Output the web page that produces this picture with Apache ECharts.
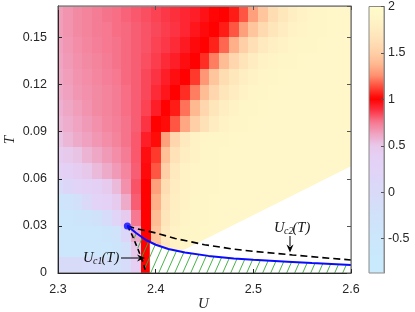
<!DOCTYPE html>
<html><head><meta charset="utf-8">
<script src="https://cdn.jsdelivr.net/npm/echarts@6/dist/echarts.min.js"></script>
<style>html,body{margin:0;padding:0;background:#fff}#c{width:415px;height:312px}</style>
</head><body><div id="c"></div>
<script>
// ---- grid of the colour field (cell centres) ----
const U_values = [2.30,2.31,2.32,2.33,2.34,2.35,2.36,2.37,2.38,2.39,2.40,2.41,2.42,2.43,2.44,2.45,2.46,2.47,2.48,2.49,2.50,2.51,2.52,2.53,2.54,2.55,2.56,2.57,2.58,2.59,2.60];
const T_values = [0.005,0.015,0.025,0.035,0.045,0.055,0.065,0.075,0.085,0.095,0.105,0.115,0.125,0.135,0.145,0.155,0.165];
const N = null;
// one row per T value (null = no data, white)
const z_T0005 = [-0.05,-0.05,-0.05,-0.1,-0.1,-0.15,-0.2,-0.1,0.4,1.0,N,N,N,N,N,N,N,N,N,N,N,N,N,N,N,N,N,N,N,N,N];
const z_T0015 = [-0.5,-0.5,-0.5,-0.5,-0.5,-0.5,-0.45,-0.2,0.5,1.0,1.4,1.7,1.82,1.86,1.88,1.89,N,N,N,N,N,N,N,N,N,N,N,N,N,N,N];
const z_T0025 = [-0.5,-0.5,-0.5,-0.5,-0.5,-0.45,-0.35,0.1,0.6,1.0,1.45,1.72,1.83,1.87,1.88,1.89,1.9,1.9,1.9,N,N,N,N,N,N,N,N,N,N,N,N];
const z_T0035 = [-0.5,-0.5,-0.45,-0.4,-0.3,-0.1,0.2,0.45,0.75,1.0,1.4,1.68,1.8,1.85,1.87,1.88,1.89,1.9,1.9,1.9,1.9,1.9,N,N,N,N,N,N,N,N,N];
const z_T0045 = [-0.45,-0.35,-0.2,0.05,0.25,0.35,0.45,0.6,0.8,1.0,1.35,1.65,1.78,1.84,1.87,1.88,1.89,1.9,1.9,1.9,1.9,1.9,1.9,1.9,1.9,N,N,N,N,N,N];
const z_T0055 = [-0.1,0.1,0.22,0.3,0.36,0.45,0.55,0.68,0.82,1.0,1.3,1.6,1.76,1.83,1.86,1.87,1.88,1.89,1.9,1.9,1.9,1.9,1.9,1.9,1.9,1.9,1.9,1.9,N,N,N];
const z_T0065 = [0.33,0.38,0.44,0.5,0.55,0.6,0.65,0.71,0.8,0.98,1.15,1.5,1.72,1.82,1.86,1.87,1.88,1.89,1.9,1.9,1.9,1.9,1.9,1.9,1.9,1.9,1.9,1.9,1.9,1.9,1.9];
const z_T0075 = [0.44,0.48,0.52,0.57,0.61,0.65,0.69,0.74,0.81,0.97,1.1,1.42,1.65,1.78,1.84,1.87,1.88,1.89,1.9,1.9,1.9,1.9,1.9,1.9,1.9,1.9,1.9,1.9,1.9,1.9,1.9];
const z_T0085 = [0.52,0.56,0.6,0.63,0.66,0.69,0.72,0.76,0.81,0.93,1.02,1.3,1.55,1.72,1.82,1.86,1.87,1.88,1.89,1.9,1.9,1.9,1.9,1.9,1.9,1.9,1.9,1.9,1.9,1.9,1.9];
const z_T0095 = [0.56,0.59,0.62,0.65,0.68,0.71,0.73,0.76,0.8,0.88,1.0,1.02,1.15,1.32,1.5,1.64,1.75,1.82,1.86,1.88,1.89,1.9,1.9,1.9,1.9,1.9,1.9,1.9,1.9,1.9,1.9];
const z_T0105 = [0.58,0.61,0.64,0.67,0.7,0.72,0.74,0.77,0.8,0.85,0.93,1.0,1.05,1.2,1.38,1.55,1.68,1.77,1.83,1.87,1.88,1.89,1.9,1.9,1.9,1.9,1.9,1.9,1.9,1.9,1.9];
const z_T0115 = [0.6,0.63,0.66,0.68,0.7,0.72,0.74,0.77,0.8,0.84,0.9,0.95,1.0,1.08,1.22,1.4,1.55,1.68,1.76,1.82,1.86,1.88,1.89,1.9,1.9,1.9,1.9,1.9,1.9,1.9,1.9];
const z_T0125 = [0.61,0.64,0.67,0.69,0.71,0.73,0.75,0.78,0.8,0.84,0.88,0.93,0.97,1.0,1.1,1.27,1.45,1.6,1.7,1.78,1.83,1.86,1.88,1.89,1.9,1.9,1.9,1.9,1.9,1.9,1.9];
const z_T0135 = [0.62,0.65,0.68,0.7,0.72,0.74,0.76,0.78,0.8,0.83,0.86,0.9,0.93,0.97,1.0,1.08,1.22,1.4,1.55,1.67,1.76,1.82,1.85,1.87,1.88,1.89,1.9,1.9,1.9,1.9,1.9];
const z_T0145 = [0.63,0.66,0.69,0.71,0.73,0.75,0.76,0.78,0.8,0.82,0.85,0.87,0.9,0.94,0.98,1.0,1.06,1.18,1.35,1.5,1.62,1.72,1.79,1.83,1.86,1.87,1.88,1.89,1.9,1.9,1.9];
const z_T0155 = [0.64,0.67,0.7,0.72,0.74,0.75,0.77,0.78,0.8,0.82,0.84,0.86,0.88,0.91,0.95,0.98,1.0,1.05,1.15,1.3,1.45,1.58,1.68,1.76,1.82,1.85,1.87,1.88,1.89,1.9,1.9];
const z_T0165 = [0.64,0.67,0.7,0.72,0.74,0.76,0.77,0.79,0.81,0.83,0.85,0.87,0.89,0.91,0.93,0.96,0.99,1.0,1.05,1.15,1.3,1.45,1.6,1.7,1.78,1.83,1.86,1.88,1.89,1.9,1.9];

// ---- curves ----
const blueU = [2.371,2.38,2.39,2.40,2.413,2.43,2.454,2.48,2.50,2.535,2.56,2.60];
const blueT = [0.030,0.0255,0.021,0.018,0.0153,0.013,0.0109,0.0092,0.0084,0.0072,0.0063,0.0051];
const c2U = [2.371,2.38,2.40,2.42,2.45,2.48,2.50,2.54,2.57,2.60];
const c2T = [0.030,0.0283,0.0255,0.022,0.018,0.0152,0.0138,0.0115,0.0098,0.0083];
const c1U = [2.371,2.376,2.382,2.387,2.39];
const c1T = [0.030,0.024,0.015,0.007,0.0];
const pointU = [2.371];
const pointT = [0.030];
// boundary of the region without data
const noDataU = [2.394,2.394,2.40,2.413,2.425,2.60,2.60];
const noDataT = [0,0.0195,0.018,0.0153,0.0135,0.068,0];

// ---- tick labels ----
const xTicks = [2.3,2.4,2.5,2.6];
const yTicks = [0,0.03,0.06,0.09,0.12,0.15];
const cbTicks = [-0.5,0,0.5,1,1.5,2];
const cbMin = -0.87, cbMax = 2;

const cmap = ['#c9e9fc','#c9e9fc','#cae8fc','#cce6fb','#cee4fb','#d1e1fa','#d5ddf9','#d9daf8','#ddd6f8','#e2d3f7','#e5d0f5','#e8c8ea','#f0a2c0','#f67890','#fc3444','#ff0000','#ff4838','#ff9070','#ffb890','#ffd0a8','#ffe0b6','#ffecc0','#fff6c8','#fffccc'];

const rows = [z_T0005,z_T0015,z_T0025,z_T0035,z_T0045,z_T0055,z_T0065,z_T0075,z_T0085,z_T0095,z_T0105,z_T0115,z_T0125,z_T0135,z_T0145,z_T0155,z_T0165];
const cells = [];
rows.forEach((row, j) => row.forEach((v, i) => { if (v !== null) cells.push([U_values[i], T_values[j], v]); }));
const dU = U_values[1] - U_values[0];
const dT = T_values[1] - T_values[0];
const zip = (a, b) => a.map((v, i) => [v, b[i]]);

// hatch pattern
const pc = document.createElement('canvas');
pc.width = 8; pc.height = 18;
const g = pc.getContext('2d');
g.strokeStyle = '#33a833'; g.lineWidth = 0.9;
[-8, 0, 8].forEach(o => { g.beginPath(); g.moveTo(o, 18); g.lineTo(o + 8, 0); g.stroke(); });

const hatchPts = zip(c1U, c1T).concat([[blueU[blueU.length-1], 0]]).concat(zip(blueU, blueT).reverse());
const noDataPts = zip(noDataU, noDataT);

const txt = '#262626';
const chart = echarts.init(document.getElementById('c'), null, {renderer: 'canvas'});

function polySeries(pts, fill, z) {
  return {
    type: 'custom', xAxisIndex: 0, yAxisIndex: 0, z: z, clip: true, silent: true,
    data: [pts[0]],
    renderItem: (params, api) => ({
      type: 'polygon',
      shape: { points: pts.map(p => api.coord(p)) },
      style: { fill: fill, stroke: null }
    })
  };
}

const subFont = 'italic 10px "Liberation Serif"';
const mainFont = 'italic 14.5px "Liberation Serif"';
const titleFont = 'italic 15px "Liberation Serif"';
function label(x, y, sub) {
  return [
    {type:'text', z:100, x:x, y:y, style:{text:'U', font:mainFont, fill:'#111', verticalAlign:'middle'}},
    {type:'text', z:100, x:x+10, y:y+3.5, style:{text:sub, font:subFont, fill:'#111', verticalAlign:'middle'}},
    {type:'text', z:100, x:x+18.5, y:y, style:{text:'(T)', font:mainFont, fill:'#111', verticalAlign:'middle'}}
  ];
}

chart.setOption({
  animation: false,
  backgroundColor: '#fff',
  grid: [
    {left: 58, top: 6, width: 293, height: 267, show: true, borderColor: '#555', borderWidth: 1, backgroundColor: 'transparent', z: 10},
    {left: 369, top: 6, width: 15, height: 267, show: true, borderColor: '#8a8a8a', borderWidth: 1, backgroundColor: 'transparent', z: 10}
  ],
  visualMap: {
    type: 'continuous', seriesIndex: 0, dimension: 2, min: cbMin, max: cbMax,
    inRange: {color: cmap}, calculable: false, orient: 'vertical',
    left: 369, top: 6, itemWidth: 15, itemHeight: 267, padding: 0, show: true, hoverLink: false
  },
  xAxis: [
    {gridIndex:0, type:'value', min:2.3, max:2.6, interval:0.1, position:'bottom', z:10,
     axisLine:{show:true, onZero:false, lineStyle:{color:txt}}, axisTick:{inside:true, length:4, lineStyle:{color:txt}},
     axisLabel:{fontSize:12.5, color:txt, margin:10, fontFamily:'Liberation Sans', formatter: v => v.toFixed(1)},
     splitLine:{show:false}},
    {gridIndex:0, type:'value', min:2.3, max:2.6, interval:0.1, position:'top', z:10,
     axisLine:{show:true, onZero:false, lineStyle:{color:'#888'}}, axisTick:{inside:true, length:4, lineStyle:{color:'#555'}},
     axisLabel:{show:false}, splitLine:{show:false}},
    {gridIndex:1, type:'value', min:0, max:1, show:false}
  ],
  yAxis: [
    {gridIndex:0, type:'value', min:0, max:0.17, interval:0.03, position:'left', z:10,
     axisLine:{show:true, onZero:false, lineStyle:{color:txt}}, axisTick:{inside:true, length:4, lineStyle:{color:txt}},
     axisLabel:{fontSize:12.5, color:txt, margin:11, fontFamily:'Liberation Sans', showMaxLabel:false,
       formatter: v => (Math.abs(v) < 1e-9 ? '0' : v.toFixed(2))},
     splitLine:{show:false}},
    {gridIndex:0, type:'value', min:0, max:0.17, interval:0.03, position:'right', z:10,
     axisLine:{show:true, onZero:false, lineStyle:{color:'#888'}}, axisTick:{inside:true, length:4, lineStyle:{color:'#555'}},
     axisLabel:{show:false}, splitLine:{show:false}},
    {gridIndex:1, type:'value', min:cbMin, max:cbMax, position:'right', z:10,
     axisLine:{show:true, onZero:false, lineStyle:{color:'#8a8a8a'}},
     axisTick:{inside:true, length:3, lineStyle:{color:'#555'}, customValues: cbTicks},
     axisLabel:{fontSize:12.5, color:txt, margin:4, fontFamily:'Liberation Sans', customValues: cbTicks, formatter: v => String(v)},
     splitLine:{show:false}}
  ],
  series: [
    {type:'custom', xAxisIndex:0, yAxisIndex:0, z:1, clip:true, silent:true,
     dimensions:['U','T','v'], encode:{x:0, y:1}, data: cells,
     renderItem: (params, api) => {
       const u = api.value(0), t = api.value(1);
       const a = api.coord([u - dU/2, t + dT/2]);
       const b = api.coord([u + dU/2, t - dT/2]);
       const cs = params.coordSys;
       const x0 = Math.max(Math.round(a[0]), cs.x), x1 = Math.min(Math.round(b[0]), cs.x + cs.width);
       const y0 = Math.max(Math.round(a[1]), cs.y), y1 = Math.min(Math.round(b[1]), cs.y + cs.height);
       return {type:'rect', shape:{x:x0, y:y0, width:x1-x0, height:y1-y0}, style:{fill: api.visual('color')}};
     }},
    polySeries(noDataPts, '#ffffff', 2),
    polySeries(hatchPts, {image: pc, repeat: 'repeat'}, 3),
    {type:'line', xAxisIndex:0, yAxisIndex:0, z:5, data: zip(blueU, blueT), showSymbol:false, silent:true,
     lineStyle:{color:'#0a0aff', width:2}},
    {type:'line', xAxisIndex:0, yAxisIndex:0, z:4, data: zip(c2U, c2T), showSymbol:false, silent:true,
     lineStyle:{color:'#000', width:1.6, type:[7,4]}},
    {type:'line', xAxisIndex:0, yAxisIndex:0, z:4, data: zip(c1U, c1T), showSymbol:false, silent:true,
     lineStyle:{color:'#000', width:1.6, type:[5,3.5]}},
    {type:'scatter', xAxisIndex:0, yAxisIndex:0, z:6, data: zip(pointU, pointT), symbolSize:7, silent:true,
     itemStyle:{color:'#0a0aff'}}
  ],
  graphic: [
    {type:'text', z:100, x:203.5, y:304, style:{text:'U', font:titleFont, fill:txt, align:'center', verticalAlign:'middle'}},
    {type:'text', z:100, x:10, y:140, rotation:Math.PI/2, style:{text:'T', font:titleFont, fill:txt, align:'center', verticalAlign:'middle'}},
    ...label(83, 258, 'c1'),
    {type:'line', z:100, shape:{x1:121, y1:258, x2:139, y2:258}, style:{stroke:'#000', lineWidth:1}},
    {type:'polygon', z:100, shape:{points:[[145,258],[137,254.5],[139.5,258],[137,261.5]]}, style:{fill:'#000'}},
    ...label(274, 228, 'c2'),
    {type:'line', z:100, shape:{x1:290, y1:236, x2:290, y2:246}, style:{stroke:'#000', lineWidth:1}},
    {type:'polygon', z:100, shape:{points:[[290,252.5],[286.5,244.5],[290,247],[293.5,244.5]]}, style:{fill:'#000'}}
  ]
});
</script></body></html>
